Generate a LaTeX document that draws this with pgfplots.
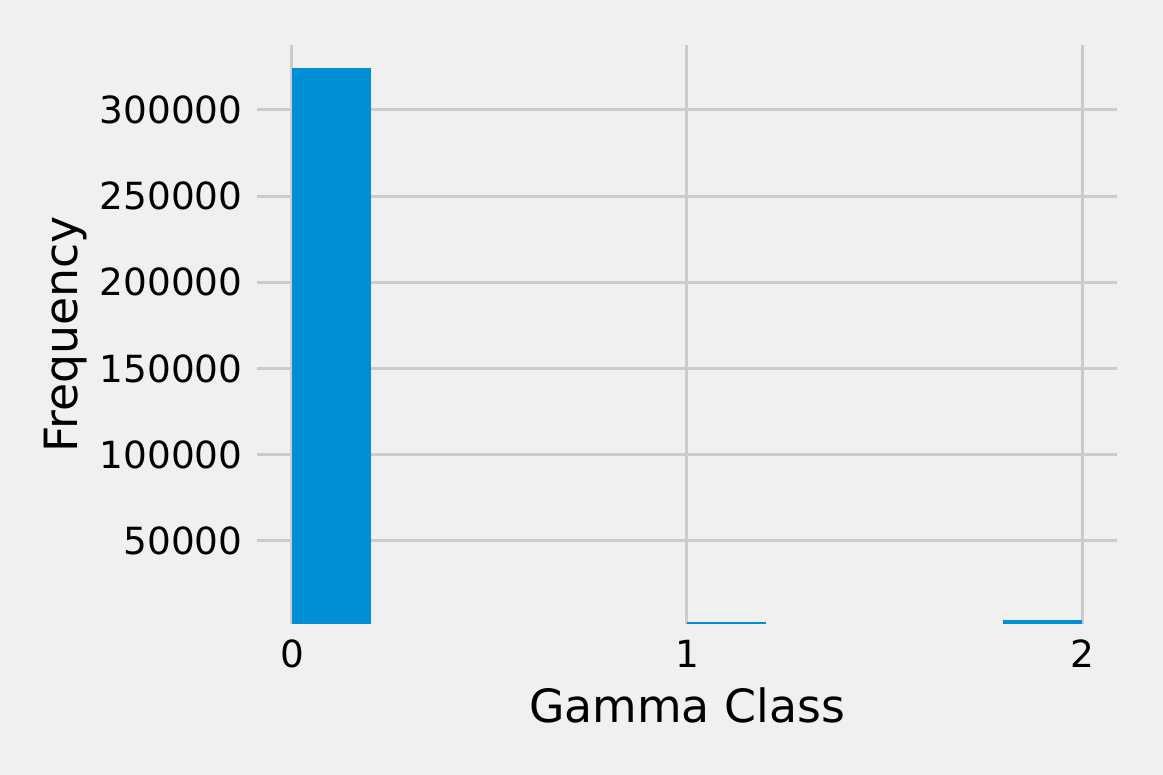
\documentclass[border=0pt]{standalone}
\usepackage{fontspec}
\setmainfont{DejaVu Sans}
\usepackage{pgfplots}
\pgfplotsset{compat=1.18}
\usetikzlibrary{backgrounds,calc}
\definecolor{bg}{HTML}{F0F0F0}
\definecolor{barblue}{HTML}{008FD5}
\definecolor{gridgray}{HTML}{CBCBCB}
\tikzset{histbar/.style={ybar interval, fill=barblue, draw=none}}

\begin{document}
\begin{tikzpicture}
\begin{axis}[
  scale only axis,
  width=430pt, height=289.35pt,
  xmin=-0.0886, xmax=2.0886,
  ymin=2000, ymax=337700,
  axis line style={draw=none},
  xtick={0,1,2},
  ytick={50000,100000,150000,200000,250000,300000},
  major tick length=0pt,
  grid=major,
  grid style={gridgray, line width=1.5pt},
  tick label style={font=\fontsize{18.7}{22}\selectfont},
  xticklabel style={anchor=north, inner sep=0pt, yshift=-8pt},
  yticklabel style={anchor=east, inner sep=0pt, xshift=-7pt},
  scaled y ticks=false,
  yticklabel={\pgfmathprintnumber[fixed,precision=0,1000 sep={},assume math mode=true]{\tick}},
  xticklabel={\pgfmathprintnumber[fixed,precision=0,assume math mode=true]{\tick}},
  xlabel={Gamma Class},
  ylabel={Frequency},
  label style={font=\fontsize{22.9}{26}\selectfont, inner sep=0pt},
  xlabel style={at={([yshift=-40.7pt]axis description cs:0.5,0)}, anchor=center},
  ylabel style={at={([xshift=-95.5pt]axis description cs:0,0.5)}, anchor=center},
]
% histogram, bins of width 0.2 (empty bins left out)
\addplot[histbar] coordinates {(0,324200) (0.2,324200)};
\addplot[histbar] coordinates {(1.0,2700) (1.2,2700)};
\addplot[histbar] coordinates {(1.8,4200) (2.0,4200)};
\coordinate (bl) at (rel axis cs:0,0);
\end{axis}
\begin{scope}[on background layer]
  \fill[bg] ($(bl)+(-128.5pt,-75.65pt)$) rectangle ++(581.5pt,387.5pt);
\end{scope}
\end{tikzpicture}
\end{document}
